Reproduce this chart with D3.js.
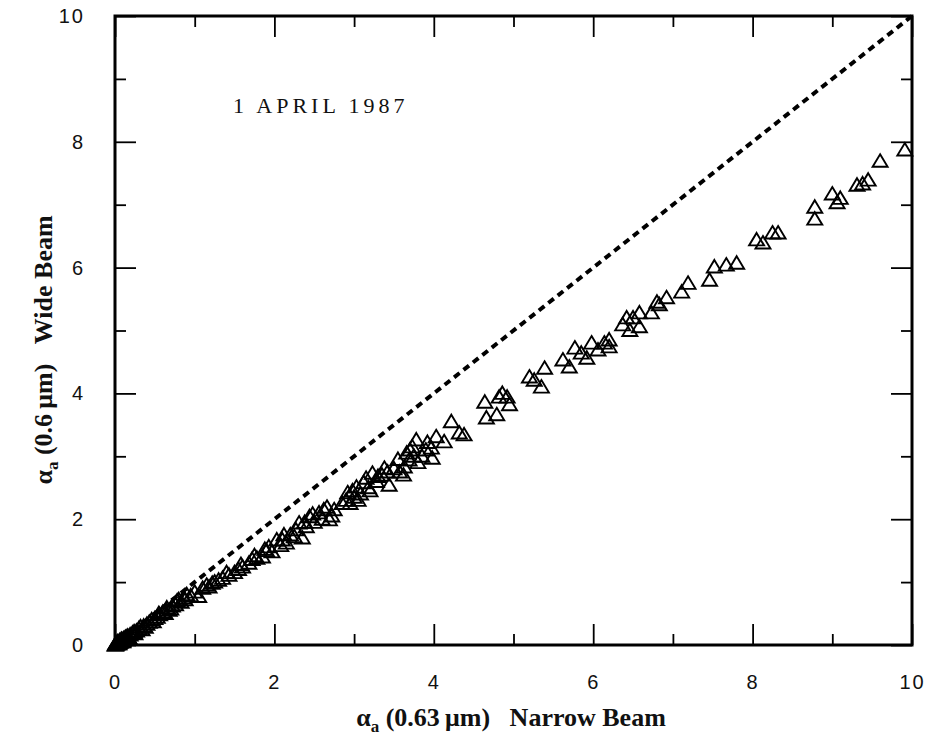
<!DOCTYPE html>
<html>
<head>
<meta charset="utf-8">
<script src="https://cdn.jsdelivr.net/npm/d3@7"></script>
<style>
  body { margin: 0; background: #fff; }
  .tick text { font-family: "Liberation Sans", Arial, sans-serif; font-size: 20px; fill: #111; letter-spacing: 2px; }
  .tick line { stroke: #000; stroke-width: 1.8; }
  .title { font-family: "Liberation Serif", "Times New Roman", serif; font-weight: bold; font-size: 26px; fill: #111; }
</style>
</head>
<body>
<div id="chart"></div>
<script>
// alpha_a narrow beam (0.63 um) vs wide beam (0.6 um), 1 April 1987
var narrowBeam = [
  0.00, 0.01, 0.02, 0.03, 0.04, 0.05, 0.06, 0.07, 0.08, 0.09,
  0.10, 0.11, 0.12, 0.14, 0.15, 0.17, 0.19, 0.22, 0.24, 0.27,
  0.30, 0.34, 0.36, 0.40, 0.43, 0.46, 0.50, 0.53, 0.56, 0.60,
  0.63, 0.65, 0.68, 0.72, 0.76, 0.80, 0.83, 0.86, 0.90, 0.95,
  1.00, 1.05, 1.10, 1.18, 1.22, 1.30, 1.35, 1.43, 1.50, 1.55,
  1.60, 1.68, 1.72, 1.78, 1.85, 1.90, 1.93, 1.97, 2.03, 2.08,
  2.10, 2.15, 2.20, 2.27, 2.31, 2.35, 2.40, 2.44, 2.50, 2.56,
  2.60, 2.66, 2.69, 2.75, 2.90, 2.92, 2.95, 3.00, 3.03, 3.08,
  3.15, 3.18, 3.23, 3.28, 3.35, 3.38, 3.44, 3.50, 3.57, 3.63,
  3.66, 3.69, 3.73, 3.75, 3.78, 3.80, 3.90, 3.97, 3.98, 4.03,
  4.13, 4.22, 4.32, 4.38, 4.64, 4.66, 4.79, 4.82, 4.86, 4.92,
  4.95, 5.20, 5.26, 5.35, 5.39, 5.62, 5.70, 5.77, 5.85, 5.92,
  5.98, 6.06, 6.14, 6.20, 6.20, 6.37, 6.42, 6.46, 6.50, 6.58,
  6.58, 6.73, 6.80, 6.83, 6.92, 7.11, 7.19, 7.46, 7.52, 7.67,
  7.80, 8.05, 8.13, 8.25, 8.32, 8.78, 8.78, 9.00, 9.06, 9.10,
  9.31, 9.38, 9.45, 9.60, 9.91,
  0.01, 0.02, 0.03, 0.05, 0.06, 0.08, 0.10, 0.13, 0.16, 0.18,
  0.25, 0.32, 0.38, 0.48, 0.55, 0.70, 0.78, 0.88,
  1.15, 1.25, 1.40, 1.58, 1.75, 1.88,
  2.12, 2.25, 2.38, 2.48, 2.62, 2.72, 2.85, 2.98, 3.05, 3.12,
  3.20, 3.30, 3.42, 3.55, 3.62, 3.70, 3.85, 3.92
];
var wideBeam = [
  0.00, 0.02, 0.01, 0.03, 0.02, 0.05, 0.04, 0.06, 0.05, 0.08,
  0.07, 0.10, 0.09, 0.11, 0.13, 0.12, 0.16, 0.19, 0.21, 0.22,
  0.26, 0.24, 0.30, 0.33, 0.36, 0.40, 0.42, 0.44, 0.48, 0.52,
  0.50, 0.59, 0.55, 0.62, 0.64, 0.72, 0.68, 0.75, 0.80, 0.78,
  0.84, 0.77, 0.90, 0.92, 0.98, 1.03, 1.06, 1.11, 1.15, 1.20,
  1.24, 1.30, 1.36, 1.38, 1.40, 1.50, 1.56, 1.48, 1.67, 1.58,
  1.67, 1.62, 1.75, 1.83, 1.94, 1.70, 1.88, 2.04, 1.95, 2.10,
  2.00, 2.19, 1.99, 2.15, 2.30, 2.42, 2.25, 2.35, 2.51, 2.40,
  2.65, 2.50, 2.73, 2.60, 2.70, 2.81, 2.54, 2.80, 2.75, 2.83,
  3.05, 2.94, 3.15, 3.00, 3.26, 2.90, 3.10, 3.13, 2.97, 3.31,
  3.23, 3.55, 3.37, 3.34, 3.86, 3.61, 3.66, 3.94, 4.00, 3.94,
  3.82, 4.26, 4.21, 4.10, 4.40, 4.53, 4.42, 4.72, 4.64, 4.56,
  4.80, 4.69, 4.80, 4.85, 4.74, 5.09, 5.20, 5.00, 5.20, 5.28,
  5.06, 5.28, 5.45, 5.41, 5.52, 5.61, 5.75, 5.80, 6.01, 6.04,
  6.07, 6.44, 6.39, 6.55, 6.55, 6.96, 6.77, 7.17, 7.03, 7.10,
  7.31, 7.33, 7.39, 7.69, 7.87,
  0.00, 0.03, 0.05, 0.02, 0.07, 0.09, 0.05, 0.12, 0.14, 0.10,
  0.18, 0.29, 0.28, 0.37, 0.50, 0.57, 0.70, 0.72,
  0.95, 1.00, 1.15, 1.28, 1.42, 1.52,
  1.75, 1.72, 1.95, 2.08, 2.15, 2.05, 2.25, 2.45, 2.30, 2.58,
  2.45, 2.68, 2.75, 2.95, 2.70, 3.10, 3.00, 3.22
];
var majorTicks = [0, 2, 4, 6, 8, 10];
var minorTicks = [1, 3, 5, 7, 9];
var dateLabel = '1 APRIL 1987';

var width = 929, height = 742;
var margin = { top: 16, right: 17, bottom: 97, left: 115 };

var svg = d3.select('#chart')
  .append('svg')
  .attr('width', width)
  .attr('height', height);

var xScale = d3.scaleLinear().domain([0, 10]).range([margin.left, width - margin.right]);
var yScale = d3.scaleLinear().domain([0, 10]).range([height - margin.bottom, margin.top]);

var x0 = xScale(0), x1 = xScale(10), y0 = yScale(0), y1 = yScale(10);

// ticks on all four sides, pointing inward
function addTicks(axisFn, scale, values, size, transform, labels) {
  var g = svg.append('g')
    .attr('transform', transform)
    .call(axisFn(scale).tickValues(values).tickSize(-size).tickPadding(30)
      .tickFormat(labels ? d3.format('d') : ''));
  g.select('.domain').remove();
  return g;
}
addTicks(d3.axisBottom, xScale, majorTicks, 21, 'translate(0,' + y0 + ')', true);
addTicks(d3.axisBottom, xScale, minorTicks, 11, 'translate(0,' + y0 + ')', false);
addTicks(d3.axisTop, xScale, majorTicks, 21, 'translate(0,' + y1 + ')', false);
addTicks(d3.axisTop, xScale, minorTicks, 11, 'translate(0,' + y1 + ')', false);
addTicks(d3.axisLeft, yScale, majorTicks, 21, 'translate(' + x0 + ',0)', true);
addTicks(d3.axisLeft, yScale, minorTicks, 11, 'translate(' + x0 + ',0)', false);
addTicks(d3.axisRight, yScale, majorTicks, 21, 'translate(' + x1 + ',0)', false);
addTicks(d3.axisRight, yScale, minorTicks, 11, 'translate(' + x1 + ',0)', false);

// frame
svg.append('rect')
  .attr('x', x0)
  .attr('y', y1)
  .attr('width', x1 - x0)
  .attr('height', y0 - y1)
  .attr('fill', 'none')
  .attr('stroke', '#000')
  .attr('stroke-width', 3);

// 1:1 line
svg.append('line')
  .attr('x1', xScale(0))
  .attr('y1', yScale(0))
  .attr('x2', xScale(10))
  .attr('y2', yScale(10))
  .attr('stroke', '#000')
  .attr('stroke-width', 4)
  .attr('stroke-dasharray', '7,5');

// the points, open triangles
var tri = 'M0,-7L7.5,5.5L-7.5,5.5Z';
svg.append('g')
  .selectAll('path')
  .data(narrowBeam.map(function (d, i) { return { x: d, y: wideBeam[i] }; }))
  .enter()
  .append('path')
  .attr('d', tri)
  .attr('transform', function (d) {
    return 'translate(' + xScale(d.x) + ',' + yScale(d.y) + ')';
  })
  .attr('fill', 'none')
  .attr('stroke', '#000')
  .attr('stroke-width', 1.9);

// date annotation
svg.append('text')
  .attr('x', 233)
  .attr('y', 113)
  .style('font-family', '"Liberation Serif", serif')
  .style('font-size', '22px')
  .style('letter-spacing', '4px')
  .attr('fill', '#111')
  .text(dateLabel);

// axis titles
var xt = svg.append('text')
  .attr('class', 'title')
  .attr('x', 511)
  .attr('y', 726)
  .attr('text-anchor', 'middle');
xt.append('tspan').text('\u03b1');
xt.append('tspan').attr('dy', 6).style('font-size', '17px').text('a');
xt.append('tspan').attr('dy', -6).text(' (0.63\u2009\u03bcm)\u00a0\u00a0\u00a0Narrow Beam');

var yt = svg.append('text')
  .attr('class', 'title')
  .attr('transform', 'translate(52,350) rotate(-90)')
  .attr('text-anchor', 'middle');
yt.append('tspan').text('\u03b1');
yt.append('tspan').attr('dy', 6).style('font-size', '17px').text('a');
yt.append('tspan').attr('dy', -6).text(' (0.6\u2009\u03bcm)\u00a0\u00a0\u00a0Wide Beam');
</script>
</body>
</html>
